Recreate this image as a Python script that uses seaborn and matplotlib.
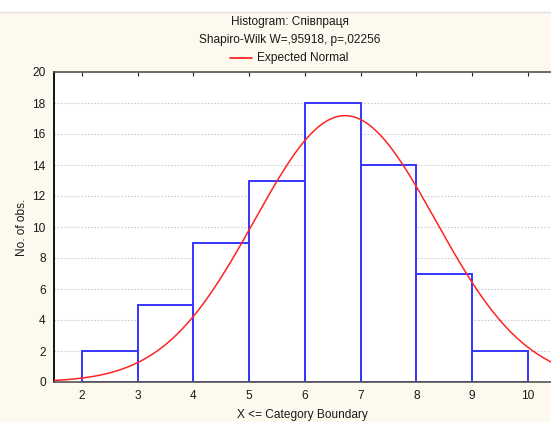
import numpy as np
import pandas as pd
import matplotlib
matplotlib.use("Agg")
import matplotlib.pyplot as plt
import seaborn as sns
from matplotlib.lines import Line2D

# Category boundaries (upper bounds, X <= boundary) and observed counts
bin_edges = [2, 3, 4, 5, 6, 7, 8, 9, 10]
counts = [2, 5, 9, 13, 18, 14, 7, 2]

# Fitted normal parameters for the expected curve
fit_mean = 6.72
fit_sd = 1.625
n_obs = sum(counts)

title_lines = ["Histogram: Співпраця", "Shapiro-Wilk W=,95918, p=,02256"]
legend_label = "Expected Normal"
x_label = "X <= Category Boundary"
y_label = "No. of obs."

sns.set_theme(style="white")
plt.rcParams["font.family"] = ["Liberation Sans", "DejaVu Sans"]
FS = 8.6

fig = plt.figure(figsize=(5.51, 4.22), dpi=100)
fig.patch.set_facecolor("#FEF9EE")
W, H = 551, 422
ax = fig.add_axes([54 / W, 1 - 382 / H, 1 - 54 / W, (382 - 72) / H])
ax.set_facecolor("white")

# White band across the very top of the window
fig.patches.append(plt.Rectangle((0, 1 - 12 / H), 1, 12 / H, transform=fig.transFigure,
                                 facecolor="white", edgecolor="none", zorder=0))
fig.add_artist(Line2D([0, 1], [1 - 12 / H, 1 - 12 / H], transform=fig.transFigure,
                      color="#E2E2E2", lw=1))

hist_df = pd.DataFrame({
    "mid": [(a + b) / 2 for a, b in zip(bin_edges[:-1], bin_edges[1:])],
    "count": counts,
})
sns.histplot(data=hist_df, x="mid", weights="count", bins=bin_edges, ax=ax,
             color="white", edgecolor="#3535FF", linewidth=1.4, alpha=1, zorder=2)

xs = np.linspace(1.5, 10.5, 400)
ys = n_obs * 1.0 / (fit_sd * np.sqrt(2 * np.pi)) * np.exp(-0.5 * ((xs - fit_mean) / fit_sd) ** 2)
sns.lineplot(x=xs, y=ys, ax=ax, color="#FF2424", lw=1.1, zorder=3)

ax.set_xlim(1.5, 1.5 + (551 - 54) / 55.75)
ax.set_ylim(0, 20)
ax.set_xticks(range(2, 11))
ax.set_yticks(range(0, 21, 2))
ax.tick_params(axis="both", labelsize=FS, colors="#1A1A1A", length=3, width=0.8,
               pad=6)
ax.tick_params(axis="x", direction="in", top=True, bottom=False)
ax.tick_params(axis="y", left=False, pad=3)
ax.yaxis.grid(True, color="#CCCCCC", linestyle=(0, (1.5, 1.5)), linewidth=0.8, zorder=0)
ax.set_axisbelow(True)

for side in ["top", "bottom"]:
    ax.spines[side].set_color("#555555")
    ax.spines[side].set_linewidth(1.2)
ax.spines["left"].set_color("black")
ax.spines["left"].set_linewidth(1.3)
ax.spines["right"].set_visible(False)

ax.set_xlabel(x_label, fontsize=FS, color="#1A1A1A", labelpad=5)
ax.set_ylabel(y_label, fontsize=FS, color="#1A1A1A", labelpad=3)

cx = 290 / W
fig.text(cx, 1 - 22 / H, title_lines[0], ha="center", va="center", fontsize=FS, color="#1A1A1A")
fig.text(cx, 1 - 40 / H, title_lines[1], ha="center", va="center", fontsize=FS, color="#1A1A1A")
fig.add_artist(Line2D([230 / W, 252 / W], [1 - 58 / H, 1 - 58 / H], transform=fig.transFigure,
                      color="#FF0000", lw=1.1))
fig.text(257 / W, 1 - 58 / H, legend_label, ha="left", va="center", fontsize=FS, color="#1A1A1A")

fig.savefig("out.png", dpi=100, facecolor=fig.get_facecolor())
